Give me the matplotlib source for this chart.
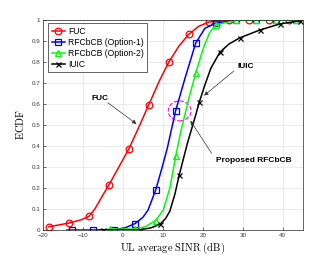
import matplotlib.pyplot as plt
from matplotlib.patches import Ellipse

plt.rcParams['mathtext.fontset'] = 'cm'
plt.rcParams['font.family'] = ['Liberation Sans', 'DejaVu Sans']

# --- Curves (SINR in dB, ECDF) ---
fuc_x = [-18.5, -13.5, -10.5, -8.5, -7.0, -5.5, -3.5, -1.0, 1.5, 4.0, 6.5, 9.0, 11.5, 14.0, 16.5, 19.0, 21.5, 26.5, 31.5, 36.5, 41.5]
fuc_y = [0.015, 0.033, 0.048, 0.065, 0.10, 0.15, 0.214, 0.30, 0.386, 0.49, 0.597, 0.705, 0.80, 0.875, 0.932, 0.97, 0.99, 0.998, 1.0, 1.0, 1.0]
fuc_marks = [0, 1, 3, 6, 8, 10, 12, 14, 16, 17, 18, 19, 20]

opt1_x = [-14.0, -12.8, -7.5, -2.2, 0.5, 3.0, 5.0, 6.3, 8.2, 9.7, 11.1, 13.2, 15.5, 18.2, 20.5, 23.2, 28.2, 33.2, 38.2, 43.2]
opt1_y = [0.0, 0.0, 0.0, 0.002, 0.01, 0.03, 0.06, 0.095, 0.19, 0.29, 0.389, 0.568, 0.72, 0.889, 0.96, 0.985, 0.998, 1.0, 1.0, 1.0]
opt1_marks = [1, 2, 3, 5, 8, 11, 13, 15, 16, 17, 18, 19]

opt2_x = [-4.0, -3.2, 3.0, 5.5, 8.2, 10.1, 11.75, 13.2, 14.5, 15.5, 16.75, 18.2, 20.1, 21.7, 23.2, 28.2, 33.2, 38.2, 43.2]
opt2_y = [0.0, 0.004, 0.005, 0.015, 0.045, 0.095, 0.2, 0.35, 0.47, 0.548, 0.645, 0.746, 0.865, 0.94, 0.976, 0.998, 1.0, 1.0, 1.0]
opt2_marks = [1, 2, 4, 7, 11, 14, 15, 16, 17, 18]

iuic_x = [-5.8, -5.0, 4.25, 7.0, 9.25, 10.7, 11.75, 13.0, 14.1, 16.1, 18.25, 19.1, 20.5, 22.0, 24.25, 26.5, 29.25, 34.25, 39.25, 44.25]
iuic_y = [0.0, 0.0, 0.001, 0.01, 0.027, 0.055, 0.09, 0.17, 0.262, 0.41, 0.55, 0.608, 0.69, 0.77, 0.846, 0.885, 0.915, 0.952, 0.981, 0.996]
iuic_marks = [1, 2, 4, 8, 11, 14, 16, 17, 18, 19]

x_ticks = [-20, -10, 0, 10, 20, 30, 40]
y_ticks = [0, 0.1, 0.2, 0.3, 0.4, 0.5, 0.6, 0.7, 0.8, 0.9, 1]
y_tick_labels = ['0', '0.1', '0.2', '0.3', '0.4', '0.5', '0.6', '0.7', '0.8', '0.9', '1']

fig = plt.figure(figsize=(3.35, 2.59), dpi=100)
ax = fig.add_axes([0.128, 0.112, 0.776, 0.811])

lw = 1.1
ms = 4.8
ax.plot(fuc_x, fuc_y, color='red', lw=lw, marker='o', ms=ms, mfc='none', mew=0.9,
        markevery=fuc_marks, label='FUC')
ax.plot(opt1_x, opt1_y, color='blue', lw=lw, marker='s', ms=4.2, mfc='none', mew=0.9,
        markevery=opt1_marks, label='RFCbCB (Option-1)')
ax.plot(opt2_x, opt2_y, color='#00ff00', lw=lw, marker='^', ms=ms, mfc='none', mew=0.9,
        markevery=opt2_marks, label='RFCbCB (Option-2)')
ax.plot(iuic_x, iuic_y, color='black', lw=lw, marker='x', ms=3.6, mew=0.9,
        markevery=iuic_marks, label='IUIC')

# dashed highlight around proposed scheme
ax.add_patch(Ellipse((14.2, 0.567), 5.7, 0.095, fill=False, ls='--', lw=0.8, color='magenta'))

arrow = dict(arrowstyle='-|>', color='#333333', lw=0.5, mutation_scale=6, shrinkA=0, shrinkB=0)
ax.annotate('', xy=(3.4, 0.505), xytext=(-3.75, 0.606), arrowprops=arrow)
ax.text(-5.75, 0.627, 'FUC', fontsize=6, fontweight='bold', ha='center', va='center')
ax.annotate('', xy=(20.3, 0.64), xytext=(27.75, 0.757), arrowprops=arrow)
ax.text(30.75, 0.778, 'IUIC', fontsize=6, fontweight='bold', ha='center', va='center')
ax.annotate('', xy=(16.9, 0.52), xytext=(22.2, 0.365), arrowprops=arrow)
ax.text(32.75, 0.329, 'Proposed RFCbCB', fontsize=6, fontweight='bold', ha='center', va='center')

ax.set_xlim(-20, 45)
ax.set_ylim(0, 1)
ax.set_xticks(x_ticks)
ax.set_yticks(y_ticks)
ax.set_yticklabels(y_tick_labels)
ax.tick_params(direction='in', length=2.5, width=0.5, labelsize=4.5, colors='#3a3a3a', pad=2)
ax.grid(True, color='#e3e3e3', lw=0.5)
ax.set_axisbelow(True)
for s in ax.spines.values():
    s.set_linewidth(0.5)
    s.set_color('#262626')

ax.set_xlabel(r'$\mathrm{UL\ average\ SINR\ (dB)}$', fontsize=7.5, labelpad=2)
ax.set_ylabel(r'$\mathrm{ECDF}$', fontsize=7.5, labelpad=4)

leg = ax.legend(loc='upper left', bbox_to_anchor=(0.02, 0.985), fontsize=6.2, handlelength=1.6,
                handletextpad=0.3, labelspacing=0.25, borderpad=0.4, fancybox=False,
                edgecolor='#262626', framealpha=1, borderaxespad=0)
leg.get_frame().set_linewidth(0.5)

fig.savefig('out.png', dpi=100)
